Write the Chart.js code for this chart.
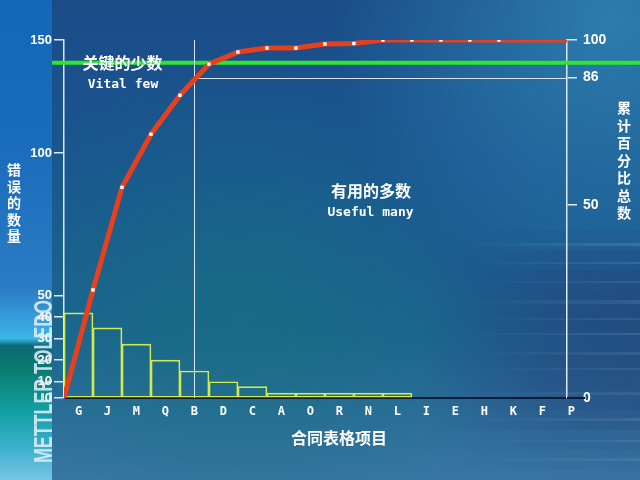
<!DOCTYPE html>
<html><head><meta charset="utf-8">
<script src="https://cdn.jsdelivr.net/npm/chart.js@4.4.1/dist/chart.umd.min.js"></script>
<style>html,body{margin:0;padding:0;background:#1c4e8a;overflow:hidden}canvas{display:block}</style>
</head><body>
<canvas id="c" width="640" height="480"></canvas>
<script>
// ---- data ----
const categories = ['G','J','M','Q','B','D','C','A','O','R','N','L','I','E','H','K','F','P'];
const errorCounts = [42,35,27.5,20,15,10,7,3,3,3,3,3,0,0,0,0,0,0];
// cumulative percentage read at category boundaries 0..18
const cumulativePct = [0,28,55,70,81,91,95.5,97,97,98.5,98.7,100,100,100,100,100,100,100,100];
const countTicks = [0,10,20,30,40,50,100,150];
const pctTicks = [0,50,86,100];
const vitalFewCut = 86;
const greenLevel = 91.5;

// ---- axis configuration (piecewise scales as in the original drawing) ----
const AXIS_BREAKS = {
  y:  [[0,0],[10,0.0455],[50,0.2858],[100,0.684],[150,1]],
  y1: [[0,0],[50,0.539],[86,0.895],[100,1]]
};
const xMax = 17.35;

function toFrac(br, v){
  for (let i=1;i<br.length;i++){
    if (v<=br[i][0] || i===br.length-1){
      const [v0,f0]=br[i-1],[v1,f1]=br[i];
      return f0+(v-v0)*(f1-f0)/(v1-v0);
    }
  }
}
function fromFrac(br, f){
  for (let i=1;i<br.length;i++){
    if (f<=br[i][1] || i===br.length-1){
      const [v0,f0]=br[i-1],[v1,f1]=br[i];
      return v0+(f-f0)*(v1-v0)/(f1-f0);
    }
  }
}
class PiecewiseScale extends Chart.LinearScale {
  getPixelForValue(value){
    if (value===null||value===undefined||Number.isNaN(+value)) return NaN;
    return this.getPixelForDecimal(toFrac(AXIS_BREAKS[this.id], +value));
  }
  getValueForPixel(pixel){
    return fromFrac(AXIS_BREAKS[this.id], this.getDecimalForPixel(pixel));
  }
}
PiecewiseScale.id = 'piecewise';
Chart.register(PiecewiseScale);

function cutPosition(){
  for (let k=1;k<cumulativePct.length;k++){
    if (cumulativePct[k]>=vitalFewCut){
      const a=cumulativePct[k-1], b=cumulativePct[k];
      return k-1+(vitalFewCut-a)/(b-a);
    }
  }
  return 0;
}

const bgPlugin = {
  id:'bg',
  beforeDraw(chart){
    const {ctx,width:W,height:H}=chart;
    ctx.save();
    let g=ctx.createLinearGradient(0,0,0,H);
    g.addColorStop(0,'#1b4c88'); g.addColorStop(0.35,'#1a5690');
    g.addColorStop(0.7,'#1c6490'); g.addColorStop(1,'#3a76a4');
    ctx.fillStyle=g; ctx.fillRect(0,0,W,H);
    let r=ctx.createRadialGradient(610,20,0,610,20,280);
    r.addColorStop(0,'rgba(50,140,185,0.75)'); r.addColorStop(1,'rgba(50,140,185,0)');
    ctx.fillStyle=r; ctx.fillRect(0,0,W,H);
    r=ctx.createRadialGradient(240,320,0,240,320,260);
    r.addColorStop(0,'rgba(20,115,125,0.55)'); r.addColorStop(1,'rgba(20,115,125,0)');
    ctx.fillStyle=r; ctx.fillRect(0,0,W,H);
    const band=[[230,0.12],[250,0.3],[270,0.45],[290,0.5],[310,0.55],[330,0.5],[350,0.55],[370,0.5],[390,0.45],[410,0.35],[430,0.2],[450,0.12],[470,0.06]];
    band.forEach(([yy,a])=>{
      const sg=ctx.createLinearGradient(420,0,640,0);
      sg.addColorStop(0,'rgba(38,58,115,0)'); sg.addColorStop(0.6,'rgba(38,58,115,'+(a*0.8)+')'); sg.addColorStop(1,'rgba(38,58,115,'+a+')');
      ctx.fillStyle=sg; ctx.fillRect(420,yy,220,20);
    });
    const streaks=[[243,3,0.22],[262,2,0.18],[281,2,0.14],[300,4,0.16],[318,2,0.14],[333,2,0.2],[352,3,0.16],[368,2,0.15],[392,3,0.14],[418,3,0.16],[440,2,0.14],[458,3,0.14]];
    streaks.forEach(([yy,h,a])=>{
      const sg=ctx.createLinearGradient(470,0,640,0);
      sg.addColorStop(0,'rgba(150,180,215,0)'); sg.addColorStop(1,'rgba(150,180,215,'+a+')');
      ctx.fillStyle=sg; ctx.fillRect(470,yy,170,h);
    });
    g=ctx.createLinearGradient(0,0,0,H);
    g.addColorStop(0,'#1467b8'); g.addColorStop(0.3,'#1a6cbc'); g.addColorStop(0.6,'#2a7cc4');
    g.addColorStop(0.68,'#3aa6e0'); g.addColorStop(0.705,'#3ab8ea'); g.addColorStop(0.72,'#0b6a78');
    g.addColorStop(0.77,'#0a7c70'); g.addColorStop(0.86,'#14a0a4'); g.addColorStop(0.93,'#3ab0cc'); g.addColorStop(1,'#78c4e4');
    ctx.fillStyle=g; ctx.fillRect(0,0,52,H);
    ctx.restore();
  }
};

const overlayPlugin = {
  id:'overlay',
  beforeDatasetsDraw(chart){
    const {ctx,chartArea:a,scales:{x,y1}}=chart;
    ctx.save();
    const gy=y1.getPixelForValue(greenLevel);
    ctx.strokeStyle='#2ee62e'; ctx.lineWidth=4;
    ctx.beginPath(); ctx.moveTo(a.left-12,gy); ctx.lineTo(chart.width,gy); ctx.stroke();
    const px=x.getPixelForValue(cutPosition());
    const hy=y1.getPixelForValue(vitalFewCut);
    ctx.strokeStyle='#d8e4ee'; ctx.lineWidth=1;
    ctx.beginPath(); ctx.moveTo(Math.round(px)+0.5,a.top); ctx.lineTo(Math.round(px)+0.5,a.bottom); ctx.stroke();
    ctx.beginPath(); ctx.moveTo(px,Math.round(hy)+0.5); ctx.lineTo(a.right,Math.round(hy)+0.5); ctx.stroke();
    ctx.strokeStyle='#0e1c36'; ctx.lineWidth=2;
    ctx.beginPath(); ctx.moveTo(a.right,a.bottom); ctx.lineTo(a.right+18,a.bottom); ctx.stroke();
    ctx.restore();
  },
  afterDraw(chart){
    const {ctx}=chart;
    ctx.save();
    ctx.fillStyle='#ffffff'; ctx.textAlign='center'; ctx.textBaseline='middle';
    const cjk='"Noto Sans CJK SC"';
    ctx.font='bold 16px '+cjk;
    ctx.fillText('关键的少数',122.5,62.5);
    ctx.fillText('有用的多数',371,190.5);
    ctx.fillText('合同表格项目',339,437.5);
    ctx.font='bold 13px "DejaVu Sans Mono"';
    ctx.fillText('Vital few',123,85);
    ctx.fillText('Useful many',370.5,213);
    ctx.font='bold 14px '+cjk;
    '错误的数量'.split('').forEach((ch,i)=>ctx.fillText(ch,14,170+i*16.5));
    '累计百分比总数'.split('').forEach((ch,i)=>ctx.fillText(ch,624,108+i*17.5));
    ctx.translate(44,463); ctx.rotate(-Math.PI/2);
    ctx.font='bold 26px "Liberation Sans"'; ctx.textAlign='left';
    ctx.fillStyle='rgba(228,240,250,0.85)';
    ctx.fillText('METTLER TOLEDO',0,1,163);
    ctx.restore();
  }
};

const white='#ffffff';
new Chart(document.getElementById('c'),{
  data:{
    datasets:[
      {type:'line',label:'累计百分比总数',
       data:cumulativePct.map((v,k)=>({x:k,y:v})),
       xAxisID:'x',yAxisID:'y1',borderColor:'#e8401c',borderWidth:5,tension:0,
       pointStyle:'rect',pointRadius:cumulativePct.map((v,k)=>(k===0||k>=16)?0:2.4),
       pointBackgroundColor:white,pointBorderWidth:0,borderJoinStyle:'round',order:0},
      {type:'bar',label:'错误的数量',
       data:errorCounts.map((v,i)=>({x:i+0.5,y:v})).filter(d=>d.y>0),
       xAxisID:'x',yAxisID:'y',backgroundColor:'rgba(0,0,0,0)',borderColor:'#d2ea4c',
       borderWidth:1,borderSkipped:false,barPercentage:1,categoryPercentage:1,order:1}
    ]
  },
  options:{
    responsive:false,animation:false,devicePixelRatio:1,
    layout:{padding:{top:40,left:0,right:0,bottom:0}},
    plugins:{legend:{display:false},tooltip:{enabled:false}},
    scales:{
      x:{type:'linear',position:'bottom',min:0,max:xMax,offset:false,
         afterFit(s){s.height=82;},
         afterBuildTicks(s){s.ticks=categories.map((c,i)=>({value:i+0.5}));},
         ticks:{autoSkip:false,maxRotation:0,color:white,padding:7,
                font:{family:'DejaVu Sans Mono',size:12,weight:'bold'},
                callback:(v,i)=>categories[i]},
         grid:{display:true,drawOnChartArea:false,drawTicks:false,offset:false},
         border:{display:true,color:'#0e1c36',width:2}},
      y:{type:'piecewise',position:'left',min:0,max:150,
         afterFit(s){s.width=64;},
         afterBuildTicks(s){s.ticks=countTicks.map(v=>({value:v}));},
         ticks:{autoSkip:false,color:white,padding:2,
                font:{family:'Liberation Sans',size:13,weight:'bold'},callback:v=>String(v)},
         grid:{drawOnChartArea:false,drawTicks:true,tickLength:10,color:'#dfe8f0',lineWidth:1.5},
         border:{display:true,color:'#dfe8f0',width:1.5}},
      y1:{type:'piecewise',position:'right',min:0,max:100,
         afterFit(s){s.width=73;},
         afterBuildTicks(s){s.ticks=pctTicks.map(v=>({value:v}));},
         ticks:{autoSkip:false,color:white,padding:6,
                font:{family:'Liberation Sans',size:14,weight:'bold'},callback:v=>String(v)},
         grid:{drawOnChartArea:false,drawTicks:true,tickLength:10,color:'#dfe8f0',lineWidth:1.5},
         border:{display:true,color:'#dfe8f0',width:1.5}}
    }
  },
  plugins:[bgPlugin,overlayPlugin]
});
</script>
</body></html>
